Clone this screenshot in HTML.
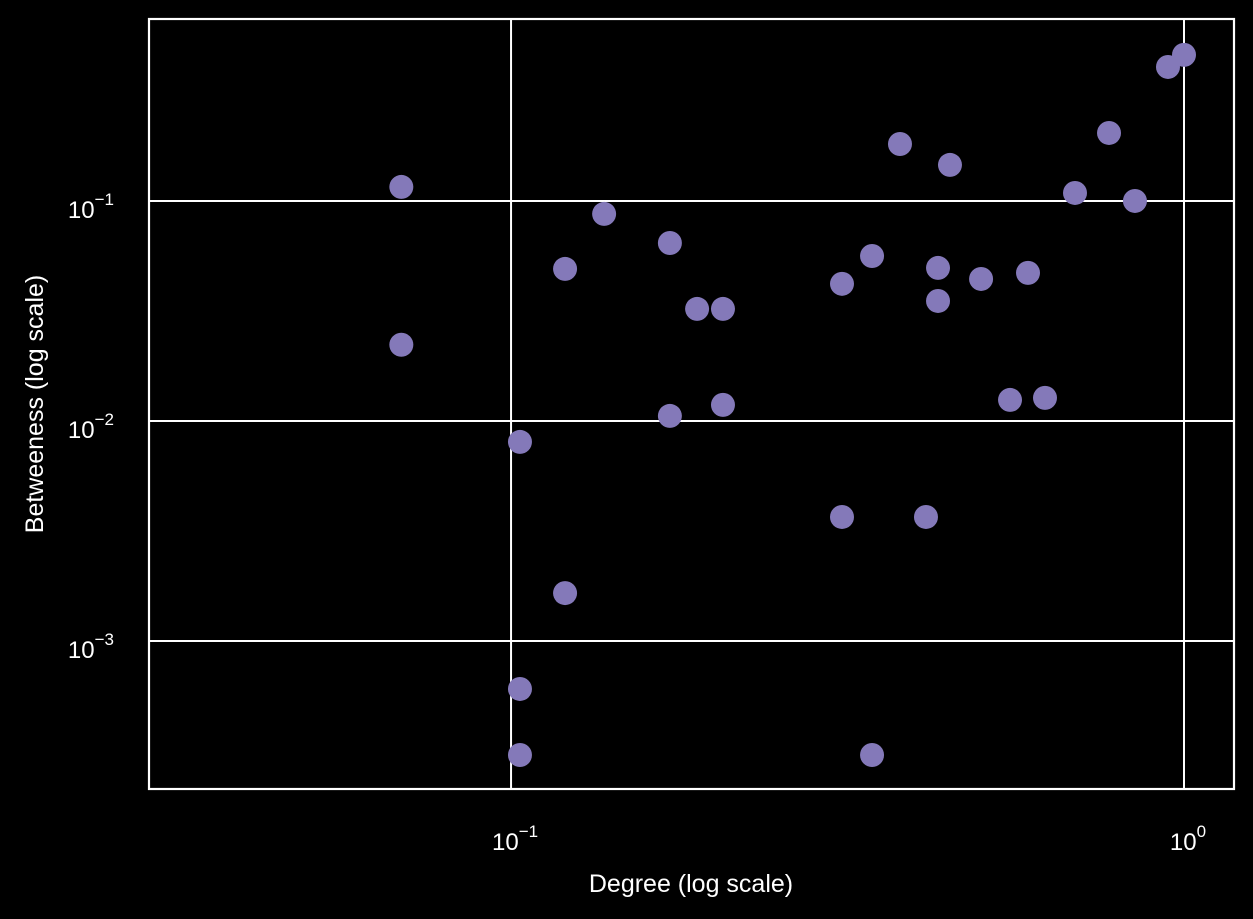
<!DOCTYPE html>
<html><head><meta charset="utf-8"><style>
html,body{margin:0;padding:0;background:#000;}
svg{display:block;font-family:"Liberation Sans",Arial,sans-serif;}
</style></head><body>
<svg id="chart" width="1253" height="919" viewBox="0 0 1253 919"></svg>
<script>
const degree = [0.0687,0.0687,0.1031,0.1031,0.1031,0.1203,0.1203,0.1375,0.1722,0.1722,0.1890,0.2065,0.2065,0.3103,0.3103,0.3439,0.3439,0.3784,0.4136,0.4310,0.4310,0.4490,0.4994,0.5514,0.5864,0.6215,0.6887,0.7737,0.8455,0.9467,1.0];
const betweenness = [0.1158,0.0222,0.00803,0.000605,0.000303,0.0491,0.00165,0.0873,0.0644,0.01054,0.0323,0.0323,0.01183,0.0420,0.00366,0.0562,0.000303,0.1815,0.00366,0.0496,0.0351,0.1458,0.0442,0.01246,0.0471,0.01273,0.1087,0.2037,0.1,0.4065,0.4613];
const xTicks = [0.1, 1];
const xTickExp = ["−1", "0"];
const yTicks = [0.1, 0.01, 0.001];
const yTickExp = ["−1", "−2", "−3"];

const L=149,R=1234,T=19,B=789;
const xMin=-1.538,xMax=0.0743,yMin=-3.673,yMax=-0.173;
const sx=v=>L+(Math.log10(v)-xMin)/(xMax-xMin)*(R-L);
const sy=v=>B-(Math.log10(v)-yMin)/(yMax-yMin)*(B-T);
const NS="http://www.w3.org/2000/svg";
const svg=document.getElementById('chart');
function mk(tag,attrs,parent){const e=document.createElementNS(NS,tag);for(const k in attrs)e.setAttribute(k,attrs[k]);(parent||svg).appendChild(e);return e;}

const grid=mk('g',{});


xTicks.forEach((t,i)=>{
  const x=sx(t);
  const l=mk('line',{x1:x,x2:x,y1:T,y2:B,stroke:'#fff','stroke-width':2},grid);
  
  
  const tx=mk('text',{x:x+4,y:850,fill:'#fff','font-size':24,'text-anchor':'middle'});
  
  
  tx.innerHTML='10<tspan dy="-13" font-size="17">'+xTickExp[i]+'</tspan>';
});
yTicks.forEach((t,i)=>{
  const y=sy(t);
  const l=mk('line',{x1:L,x2:R,y1:y,y2:y,stroke:'#fff','stroke-width':2},grid);
  
  
  const tx=mk('text',{x:114,y:y+17,fill:'#fff','font-size':24,'text-anchor':'end'});
  
  
  tx.innerHTML='10<tspan dy="-13" font-size="17">'+yTickExp[i]+'</tspan>';
});
const pts=mk('g',{});


degree.forEach((d,i)=>{
  const c=mk('circle',{cx:sx(d),cy:sy(betweenness[i]),r:12,fill:'#8479b9'},pts);
  
  
});
const fr=mk('rect',{x:L,y:T,width:R-L,height:B-T,fill:'none',stroke:'#fff','stroke-width':2.2});


const xl=mk('text',{x:691,y:892,fill:'#fff','font-size':25,'text-anchor':'middle'});


xl.textContent='Degree (log scale)';
const yl=mk('text',{x:0,y:0,fill:'#fff','font-size':25,'text-anchor':'middle',transform:'translate(43,404) rotate(-90)'});


yl.textContent='Betweeness (log scale)';
</script>
</body></html>
